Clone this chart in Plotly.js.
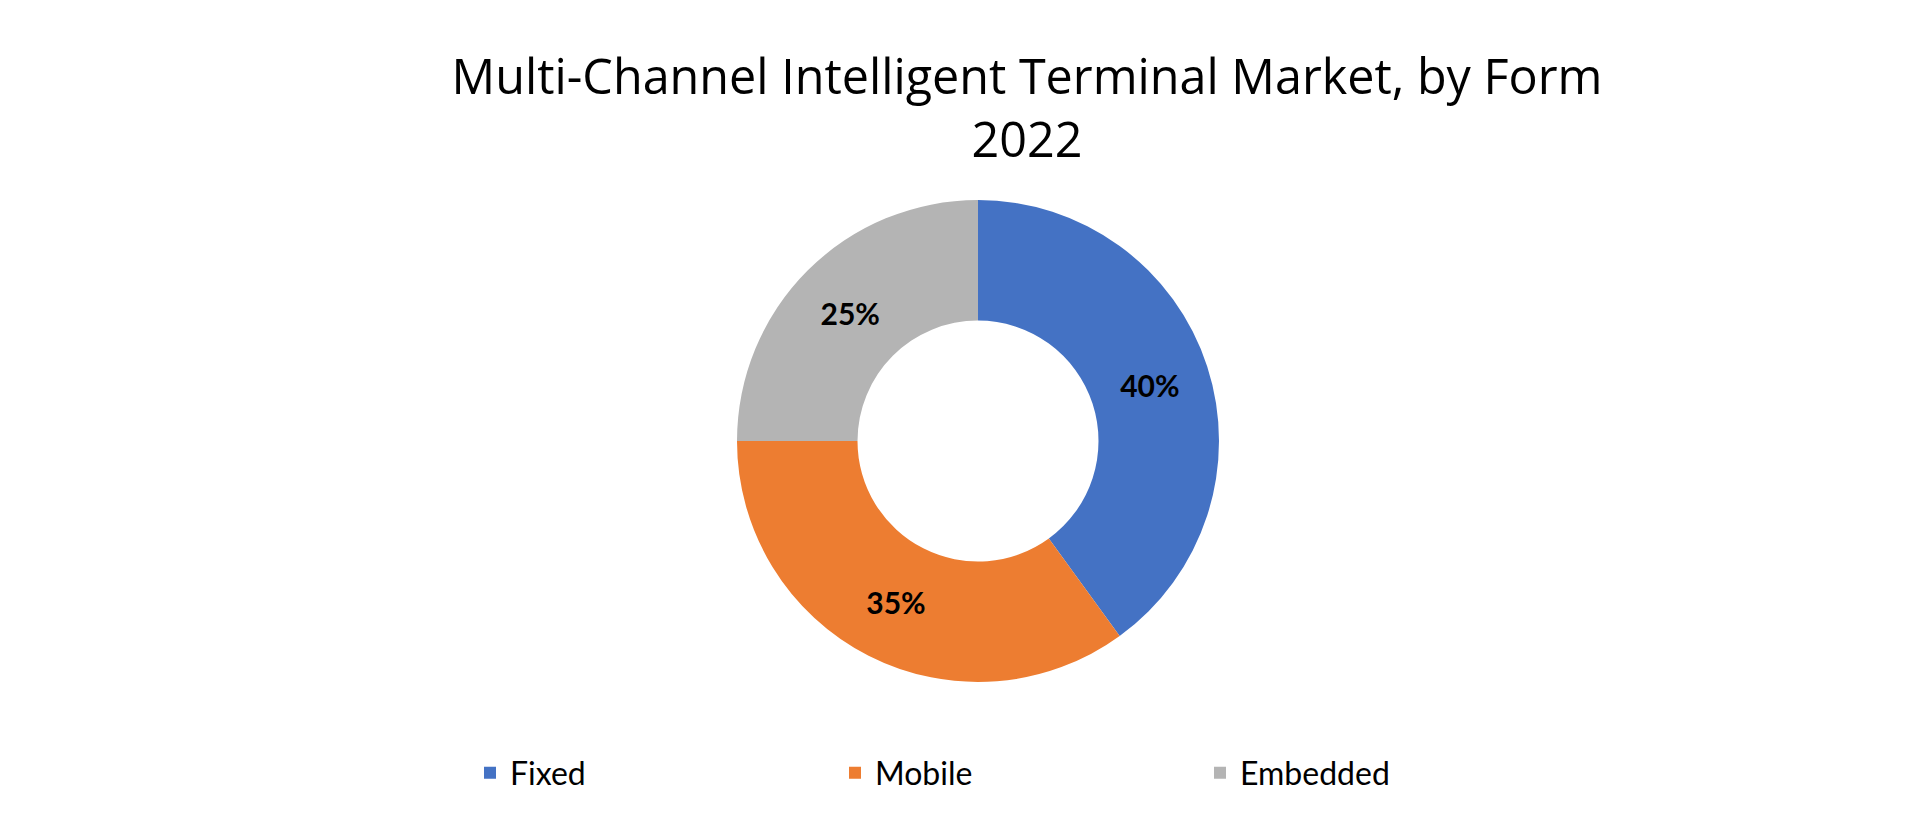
<!DOCTYPE html>
<html>
<head>
<meta charset="utf-8">
<script src="https://cdn.plot.ly/plotly-3.0.1.min.js"></script>
<style>
html, body { margin: 0; padding: 0; background: #ffffff; }
#chart { width: 1920px; height: 818px; }
</style>
</head>
<body>
<div id="chart"></div>
<script>
const categories = ["Fixed", "Mobile", "Embedded"];
const shares = [40, 35, 25];
const colors = ["#4472C4", "#ED7D31", "#B4B4B4"];
const titleLines = ["Multi-Channel Intelligent Terminal Market, by Form", "2022"];

const W = 1920, H = 818;
const cx = 978, cy = 441, r = 241;

const trace = {
  type: "pie",
  labels: categories,
  values: shares,
  sort: false,
  direction: "clockwise",
  rotation: 0,
  hole: 0.5,
  marker: { colors: colors, line: { width: 0 } },
  textinfo: "percent",
  textposition: "inside",
  insidetextorientation: "horizontal",
  textfont: { family: "Lato, 'Open Sans', sans-serif", size: 30, color: "#000000", weight: 700 },
  hoverinfo: "skip",
  domain: {
    x: [(cx - r) / W, (cx + r) / W],
    y: [(H - cy - r) / H, (H - cy + r) / H]
  }
};

const layout = {
  width: W,
  height: H,
  margin: { l: 0, r: 0, t: 0, b: 0 },
  paper_bgcolor: "#ffffff",
  plot_bgcolor: "#ffffff",
  title: {
    text: titleLines.join("<br>"),
    font: { family: "'Open Sans', Lato, sans-serif", size: 48.5, color: "#000000" },
    x: 1027 / W,
    xref: "paper",
    xanchor: "center",
    y: 1 - 94 / H,
    yref: "container",
    yanchor: "top"
  },
  showlegend: true,
  legend: {
    orientation: "h",
    x: 470 / W,
    xanchor: "left",
    y: (H - 773) / H,
    yanchor: "middle",
    entrywidth: 320,
    entrywidthmode: "pixels",
    itemwidth: 30,
    font: { family: "Lato, 'Open Sans', sans-serif", size: 32, color: "#000000" },
    bgcolor: "rgba(0,0,0,0)",
    traceorder: "normal"
  }
};

Plotly.newPlot("chart", [trace], layout, { displayModeBar: false, staticPlot: true });
</script>
</body>
</html>
